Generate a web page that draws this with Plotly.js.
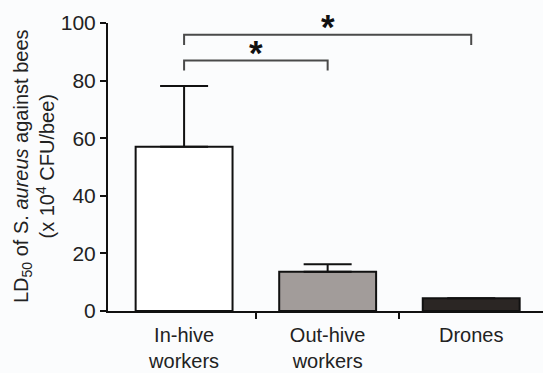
<!DOCTYPE html>
<html>
<head>
<meta charset="utf-8">
<script src="https://cdn.plot.ly/plotly-3.0.1.min.js"></script>
<style>
html,body{margin:0;padding:0;background:#fbfcfd;}
#chart{width:543px;height:373px;}
</style>
</head>
<body>
<div id="chart"></div>
<script>
// ---- data ----
const categories = ["In-hive<br>workers", "Out-hive<br>workers", "Drones"];
const ld50 = [57, 13.6, 4.4];
const sem = [21.1, 2.6, null];
const barColors = ["#ffffff", "#a29c9a", "#2b2624"];
const yTicks = [0, 20, 40, 60, 80, 100];
// significance comparisons: [from index, to index], bracket height, label
const compPairs = [[0, 1], [0, 2]];
const compHeights = [87, 95.9];
const compLabels = ["*", "*"];
const bracketDrop = 3.5;

const FONT = "Liberation Sans, Arial, sans-serif";
const xs = categories.map((c, i) => i);

const traces = [{
  type: "bar",
  x: xs,
  y: ld50,
  width: 0.675,
  marker: {color: barColors, line: {color: "#111", width: 2}},
  error_y: {type: "data", symmetric: false, array: sem, arrayminus: sem.map(() => 0),
            color: "#111", thickness: 2, width: 24},
  hoverinfo: "skip"
}, {
  type: "scatter", x: [null], y: [null], xaxis: "x2", yaxis: "y",
  showlegend: false, hoverinfo: "skip"
}];

const shapes = [];
const annotations = [];
compPairs.forEach((p, k) => {
  const h = compHeights[k];
  shapes.push({
    type: "path", xref: "x", yref: "y",
    path: `M ${p[0]} ${h - bracketDrop} L ${p[0]} ${h} L ${p[1]} ${h} L ${p[1]} ${h - bracketDrop}`,
    line: {color: "#4a4a4a", width: 2}
  });
  annotations.push({
    xref: "x", yref: "y", x: (p[0] + p[1]) / 2, y: h, text: compLabels[k],
    showarrow: false, yanchor: "middle", yshift: 8,
    font: {family: FONT, size: 35, color: "#111", weight: "bold"}
  });
});
annotations.push({
  xref: "paper", yref: "paper", x: 0, y: 0.5, xanchor: "center", yanchor: "middle",
  xshift: -74, yshift: 1, textangle: -90, showarrow: false, align: "center",
  text: "LD<sub>50</sub> of S. <i>aureus</i> against bees<br>(x 10<sup>4</sup> CFU/bee)",
  font: {family: FONT, size: 20, color: "#222"}
});

const range = [-0.53, 2.5];
const layout = {
  width: 543, height: 373,
  margin: {l: 108, r: 0, t: 23, b: 62, pad: 0},
  paper_bgcolor: "#fbfcfd", plot_bgcolor: "#fbfcfd",
  showlegend: false,
  font: {family: FONT, size: 20, color: "#222"},
  xaxis: {
    range: range, tickvals: xs, ticktext: categories, ticks: "",
    showline: true, linecolor: "#111", linewidth: 2, showgrid: false, zeroline: false,
    ticklabelstandoff: 5, fixedrange: true,
    tickfont: {family: FONT, size: 20, color: "#222"}
  },
  xaxis2: {
    overlaying: "x", anchor: "y", side: "bottom", range: range,
    tickvals: [0.5, 1.5], ticks: "outside", ticklen: 7, tickwidth: 2, tickcolor: "#111",
    showticklabels: false, showline: false, showgrid: false, zeroline: false
  },
  yaxis: {
    range: [0, 100], tickvals: yTicks, ticks: "outside", ticklen: 6, tickwidth: 2,
    tickcolor: "#111", showline: true, linecolor: "#111", linewidth: 2,
    showgrid: false, zeroline: false, fixedrange: true,
    tickfont: {family: FONT, size: 21, color: "#222"}
  },
  shapes: shapes,
  annotations: annotations
};

Plotly.newPlot("chart", traces, layout, {staticPlot: true, displayModeBar: false});
</script>
</body>
</html>
